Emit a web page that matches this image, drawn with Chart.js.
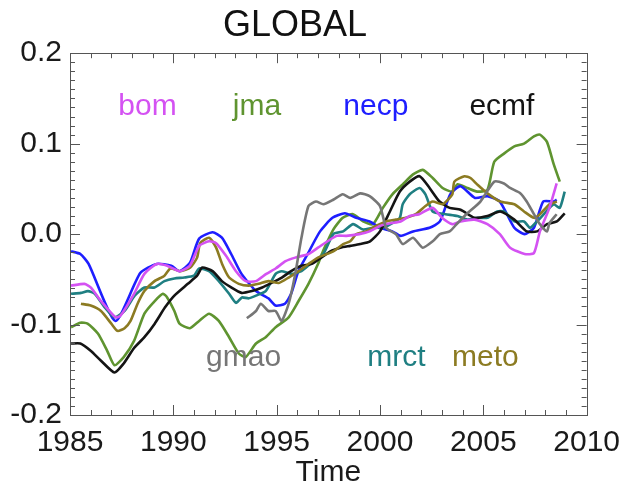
<!DOCTYPE html>
<html>
<head>
<meta charset="utf-8">
<script src="https://cdn.jsdelivr.net/npm/chart.js@4/dist/chart.umd.min.js"></script>
<style>
html,body{margin:0;padding:0;background:#fff;}
#wrap{width:630px;height:491px;position:relative;}
</style>
</head>
<body>
<div id="wrap"><canvas id="c"></canvas></div>
<script>
// ---- data ----
const chartTitle = 'GLOBAL';
const xAxisTitle = 'Time';
const xTickLabels = [1985, 1990, 1995, 2000, 2005, 2010];
const yTickLabels = [-0.2, -0.1, 0.0, 0.1, 0.2];

const bomYears = [1985.05,1985.7,1986.0,1986.5,1987.2,1987.45,1988.1,1988.6,1989.2,1989.7,1990.3,1990.8,1991.25,1991.73,1992.07,1992.55,1993.03,1993.5,1994.0,1994.5,1994.95,1995.43,1995.9,1996.54,1997.0,1997.9,1998.37,1999.0,1999.5,2000.0,2000.5,2001.0,2001.44,2001.9,2002.55,2003.0,2003.5,2003.9,2004.57,2005.2,2005.8,2006.3,2007.0,2007.45,2007.74,2008.2,2008.55];
const bomValues = [-0.057,-0.055,-0.059,-0.074,-0.092,-0.090,-0.066,-0.044,-0.033,-0.035,-0.041,-0.035,-0.013,-0.008,-0.010,-0.024,-0.041,-0.052,-0.052,-0.044,-0.038,-0.030,-0.026,-0.022,-0.015,-0.002,-0.002,0.000,0.003,0.009,0.012,0.014,0.020,0.022,0.029,0.018,0.011,0.014,0.016,0.011,0.000,-0.015,-0.022,-0.021,0.003,0.029,0.056];

const jmaYears = [1985.05,1985.5,1985.85,1986.35,1986.8,1987.15,1987.6,1988.1,1988.6,1989.1,1989.5,1989.7,1990.05,1990.3,1990.8,1991.25,1991.73,1992.2,1992.7,1993.17,1993.5,1994.0,1994.47,1994.95,1995.58,1996.06,1996.54,1997.0,1997.26,1997.74,1998.2,1998.7,1999.18,1999.66,2000.14,2000.6,2001.1,2001.6,2002.07,2002.55,2003.03,2003.5,2003.75,2004.23,2004.7,2005.2,2005.53,2006.0,2006.5,2006.97,2007.45,2007.74,2008.08,2008.41,2008.7];
const jmaValues = [-0.103,-0.098,-0.099,-0.110,-0.129,-0.145,-0.136,-0.118,-0.088,-0.074,-0.066,-0.070,-0.085,-0.099,-0.104,-0.096,-0.088,-0.096,-0.114,-0.132,-0.136,-0.121,-0.114,-0.103,-0.092,-0.074,-0.055,-0.033,-0.018,0.005,0.018,0.022,0.014,0.011,0.029,0.044,0.055,0.066,0.071,0.062,0.051,0.047,0.055,0.051,0.047,0.049,0.080,0.089,0.097,0.100,0.108,0.110,0.102,0.077,0.058];

const necpYears = [1985.05,1985.5,1985.9,1987.2,1988.4,1989.2,1989.9,1990.3,1990.8,1991.25,1991.9,1992.35,1992.8,1993.3,1994.0,1994.6,1994.95,1995.4,1995.7,1996.05,1996.5,1997.1,1997.7,1998.3,1998.85,1999.5,2000.0,2000.6,2001.0,2001.6,2002.4,2002.9,2003.4,2003.9,2004.6,2005.2,2005.8,2006.5,2007.0,2007.45,2007.9,2008.4,2008.55];
const necpValues = [-0.019,-0.022,-0.033,-0.096,-0.043,-0.033,-0.035,-0.041,-0.032,-0.005,0.002,-0.004,-0.022,-0.044,-0.063,-0.071,-0.079,-0.077,-0.066,-0.041,-0.022,0.003,0.018,0.023,0.018,0.014,0.007,0.003,-0.002,0.003,0.007,0.014,0.044,0.053,0.040,0.042,0.036,0.007,0.000,0.007,0.036,0.036,0.038];

const ecmfYears = [1985.05,1985.5,1986.0,1986.5,1987.15,1987.6,1988.1,1988.6,1989.1,1989.6,1990.05,1990.7,1991.15,1991.4,1991.9,1992.35,1992.8,1993.3,1993.8,1994.3,1994.75,1995.25,1995.7,1996.2,1996.7,1997.6,1998.08,1998.56,1999.04,1999.52,2000.0,2000.48,2000.96,2001.44,2001.92,2002.4,2002.88,2003.37,2003.9,2004.57,2005.2,2005.82,2006.5,2007.1,2007.6,2008.08,2008.56,2008.94];
const ecmfValues = [-0.121,-0.121,-0.129,-0.140,-0.153,-0.143,-0.126,-0.114,-0.099,-0.081,-0.068,-0.055,-0.046,-0.037,-0.041,-0.052,-0.059,-0.065,-0.063,-0.059,-0.054,-0.048,-0.041,-0.035,-0.033,-0.019,-0.015,-0.013,-0.011,-0.008,0.003,0.025,0.047,0.058,0.064,0.051,0.036,0.029,0.027,0.018,0.020,0.025,0.016,0.003,0.003,0.011,0.014,0.023];

const gmaoYears = [1993.56,1994.0,1994.23,1994.6,1994.95,1995.24,1995.58,1995.9,1996.2,1996.54,1996.9,1997.26,1997.74,1998.2,1998.56,1999.04,1999.5,2000.0,2000.3,2000.77,2001.1,2001.6,2002.07,2002.55,2002.9,2003.37,2003.75,2004.23,2004.86,2005.53,2006.0,2006.3,2006.8,2007.1,2007.45,2007.74,2008.08,2008.2,2008.55];
const gmaoValues = [-0.093,-0.085,-0.077,-0.085,-0.085,-0.096,-0.077,-0.044,-0.004,0.031,0.036,0.033,0.038,0.044,0.040,0.045,0.042,0.031,0.007,0.000,-0.011,-0.004,-0.015,-0.008,0.000,0.003,0.012,0.023,0.036,0.058,0.056,0.051,0.045,0.036,0.022,0.011,0.003,0.012,0.022];

const mrctYears = [1985.05,1985.53,1985.87,1986.2,1986.68,1987.16,1987.64,1988.13,1988.6,1989.09,1989.57,1990.05,1990.53,1991.0,1991.25,1991.73,1992.2,1992.7,1993.03,1993.32,1993.65,1994.0,1994.47,1994.95,1995.24,1995.72,1996.2,1996.68,1997.26,1997.74,1998.22,1998.7,1999.18,1999.66,2000.14,2000.6,2000.96,2001.1,2001.44,2001.92,2002.2,2002.55,2003.17,2003.75,2004.23,2004.7,2005.2,2005.67,2006.0,2006.5,2006.97,2007.26,2007.6,2007.93,2008.4,2008.7,2008.94];
const mrctValues = [-0.066,-0.065,-0.063,-0.066,-0.081,-0.092,-0.085,-0.068,-0.059,-0.059,-0.052,-0.049,-0.048,-0.046,-0.038,-0.041,-0.052,-0.066,-0.076,-0.070,-0.071,-0.068,-0.063,-0.044,-0.041,-0.044,-0.041,-0.032,-0.022,0.000,0.003,0.011,0.005,0.007,0.007,0.012,0.018,0.033,0.044,0.051,0.044,0.025,0.022,0.020,0.016,0.018,0.018,0.025,0.025,0.014,0.014,0.007,0.014,0.022,0.033,0.029,0.047];

const metoYears = [1985.53,1986.0,1986.5,1987.0,1987.3,1987.64,1987.93,1988.27,1988.6,1989.09,1989.57,1989.86,1990.34,1990.82,1991.15,1991.3,1991.73,1992.07,1992.36,1992.7,1993.17,1993.65,1994.13,1994.6,1995.1,1995.58,1996.06,1996.54,1997.0,1997.74,1998.22,1998.56,1998.85,1999.33,1999.8,2000.29,2000.77,2001.25,2001.73,2002.2,2002.55,2003.03,2003.5,2003.6,2004.09,2004.38,2004.7,2005.2,2005.82,2006.5,2006.97,2007.45,2007.74,2008.2,2008.56];
const metoValues = [-0.077,-0.079,-0.085,-0.099,-0.107,-0.104,-0.096,-0.077,-0.063,-0.052,-0.046,-0.038,-0.041,-0.037,-0.026,-0.010,-0.004,-0.015,-0.033,-0.048,-0.055,-0.057,-0.055,-0.052,-0.054,-0.048,-0.041,-0.033,-0.026,-0.019,-0.011,-0.008,0.000,0.003,0.009,0.014,0.016,0.018,0.022,0.031,0.036,0.033,0.044,0.058,0.064,0.062,0.055,0.045,0.036,0.033,0.025,0.018,0.022,0.033,0.036];

const seriesNames = ['bom','jma','necp','ecmf','gmao','mrct','meto'];

// ---- styling ----
const seriesColors = {
  bom:'#d452f2', jma:'#5f9430', necp:'#1e1eff', ecmf:'#141414',
  gmao:'#767676', mrct:'#1f7f82', meto:'#8c7b22'
};
// where each name is written, in data units (year, value)
const nameSpots = {
  bom:[1988.75,0.141], jma:[1994.05,0.141], necp:[1999.8,0.141], ecmf:[2005.9,0.141],
  gmao:[1993.4,-0.137], mrct:[2000.8,-0.137], meto:[2005.1,-0.137]
};

const seriesData = {
  bom:[bomYears,bomValues], jma:[jmaYears,jmaValues], necp:[necpYears,necpValues],
  ecmf:[ecmfYears,ecmfValues], gmao:[gmaoYears,gmaoValues], mrct:[mrctYears,mrctValues],
  meto:[metoYears,metoValues]
};

const FONT = "'Liberation Sans', Helvetica, Arial, sans-serif";
Chart.defaults.font.family = FONT;

const drawOrder = ['gmao','bom','meto','ecmf','mrct','necp','jma'];
const datasets = drawOrder.map(n => ({
  label: n,
  data: seriesData[n][0].map((yr,i) => ({x: yr, y: seriesData[n][1][i]})),
  borderColor: seriesColors[n],
  backgroundColor: seriesColors[n],
  borderWidth: 2.6,
  pointRadius: 0,
  tension: 0.2,
  fill: false
}));

const framePlugin = {
  id: 'frame',
  afterDraw(chart) {
    const {ctx, chartArea: a, scales: {x, y}} = chart;
    ctx.save();
    ctx.strokeStyle = '#555';
    ctx.lineWidth = 1;
    ctx.strokeRect(Math.round(a.left)+0.5, Math.round(a.top)+0.5, Math.round(a.right-a.left), Math.round(a.bottom-a.top));
    ctx.beginPath();
    for (let yr = 1985; yr <= 2010; yr++) {
      const px = Math.round(x.getPixelForValue(yr)) + 0.5;
      const len = (yr % 5 === 0) ? 10 : 5;
      ctx.moveTo(px, a.bottom); ctx.lineTo(px, a.bottom - len);
      ctx.moveTo(px, a.top); ctx.lineTo(px, a.top + len);
    }
    for (let i = -20; i <= 20; i++) {
      const py = Math.round(y.getPixelForValue(i / 100)) + 0.5;
      const len = (i % 10 === 0) ? 10 : 5;
      ctx.moveTo(a.left, py); ctx.lineTo(a.left + len, py);
      ctx.moveTo(a.right, py); ctx.lineTo(a.right - len, py);
    }
    ctx.stroke();
    // series names
    ctx.font = '30px ' + FONT;
    ctx.textAlign = 'center';
    ctx.textBaseline = 'middle';
    seriesNames.forEach(n => {
      const [yr, v] = nameSpots[n];
      ctx.fillStyle = seriesColors[n];
      ctx.fillText(n, x.getPixelForValue(yr), y.getPixelForValue(v));
    });
    ctx.restore();
  }
};

new Chart(document.getElementById('c'), {
  type: 'line',
  data: { datasets },
  options: {
    responsive: true,
    maintainAspectRatio: false,
    animation: false,
    layout: { padding: { left: 0, right: 40, top: 0, bottom: 0 } },
    plugins: {
      legend: { display: false },
      tooltip: { enabled: false },
      title: {
        display: true, text: chartTitle, color: '#111',
        font: { size: 36, weight: 'normal', family: FONT },
        padding: { top: 4, bottom: 6 }
      }
    },
    scales: {
      x: {
        type: 'linear', min: 1985, max: 2010,
        afterBuildTicks: s => { s.ticks = xTickLabels.map(v => ({value: v})); },
        afterFit: s => { s.height = 76; },
        grid: { display: false, drawTicks: false },
        border: { display: false },
        ticks: { color: '#1a1a1a', font: { size: 30 }, padding: 10, maxRotation: 0, autoSkip: false,
                 callback: v => String(v) },
        title: { display: true, text: xAxisTitle, color: '#1a1a1a', font: { size: 30 }, padding: { top: 0, bottom: 0 } }
      },
      y: {
        type: 'linear', min: -0.2, max: 0.2,
        afterBuildTicks: s => { s.ticks = yTickLabels.map(v => ({value: v})); },
        afterFit: s => { s.width = 70; },
        grid: { display: false, drawTicks: false },
        border: { display: false },
        ticks: { color: '#1a1a1a', font: { size: 30 }, padding: 8,
                 callback: v => (Math.abs(v) < 1e-9 ? '0.0' : Number(v).toFixed(1)) }
      }
    }
  },
  plugins: [framePlugin]
});
</script>
</body>
</html>
